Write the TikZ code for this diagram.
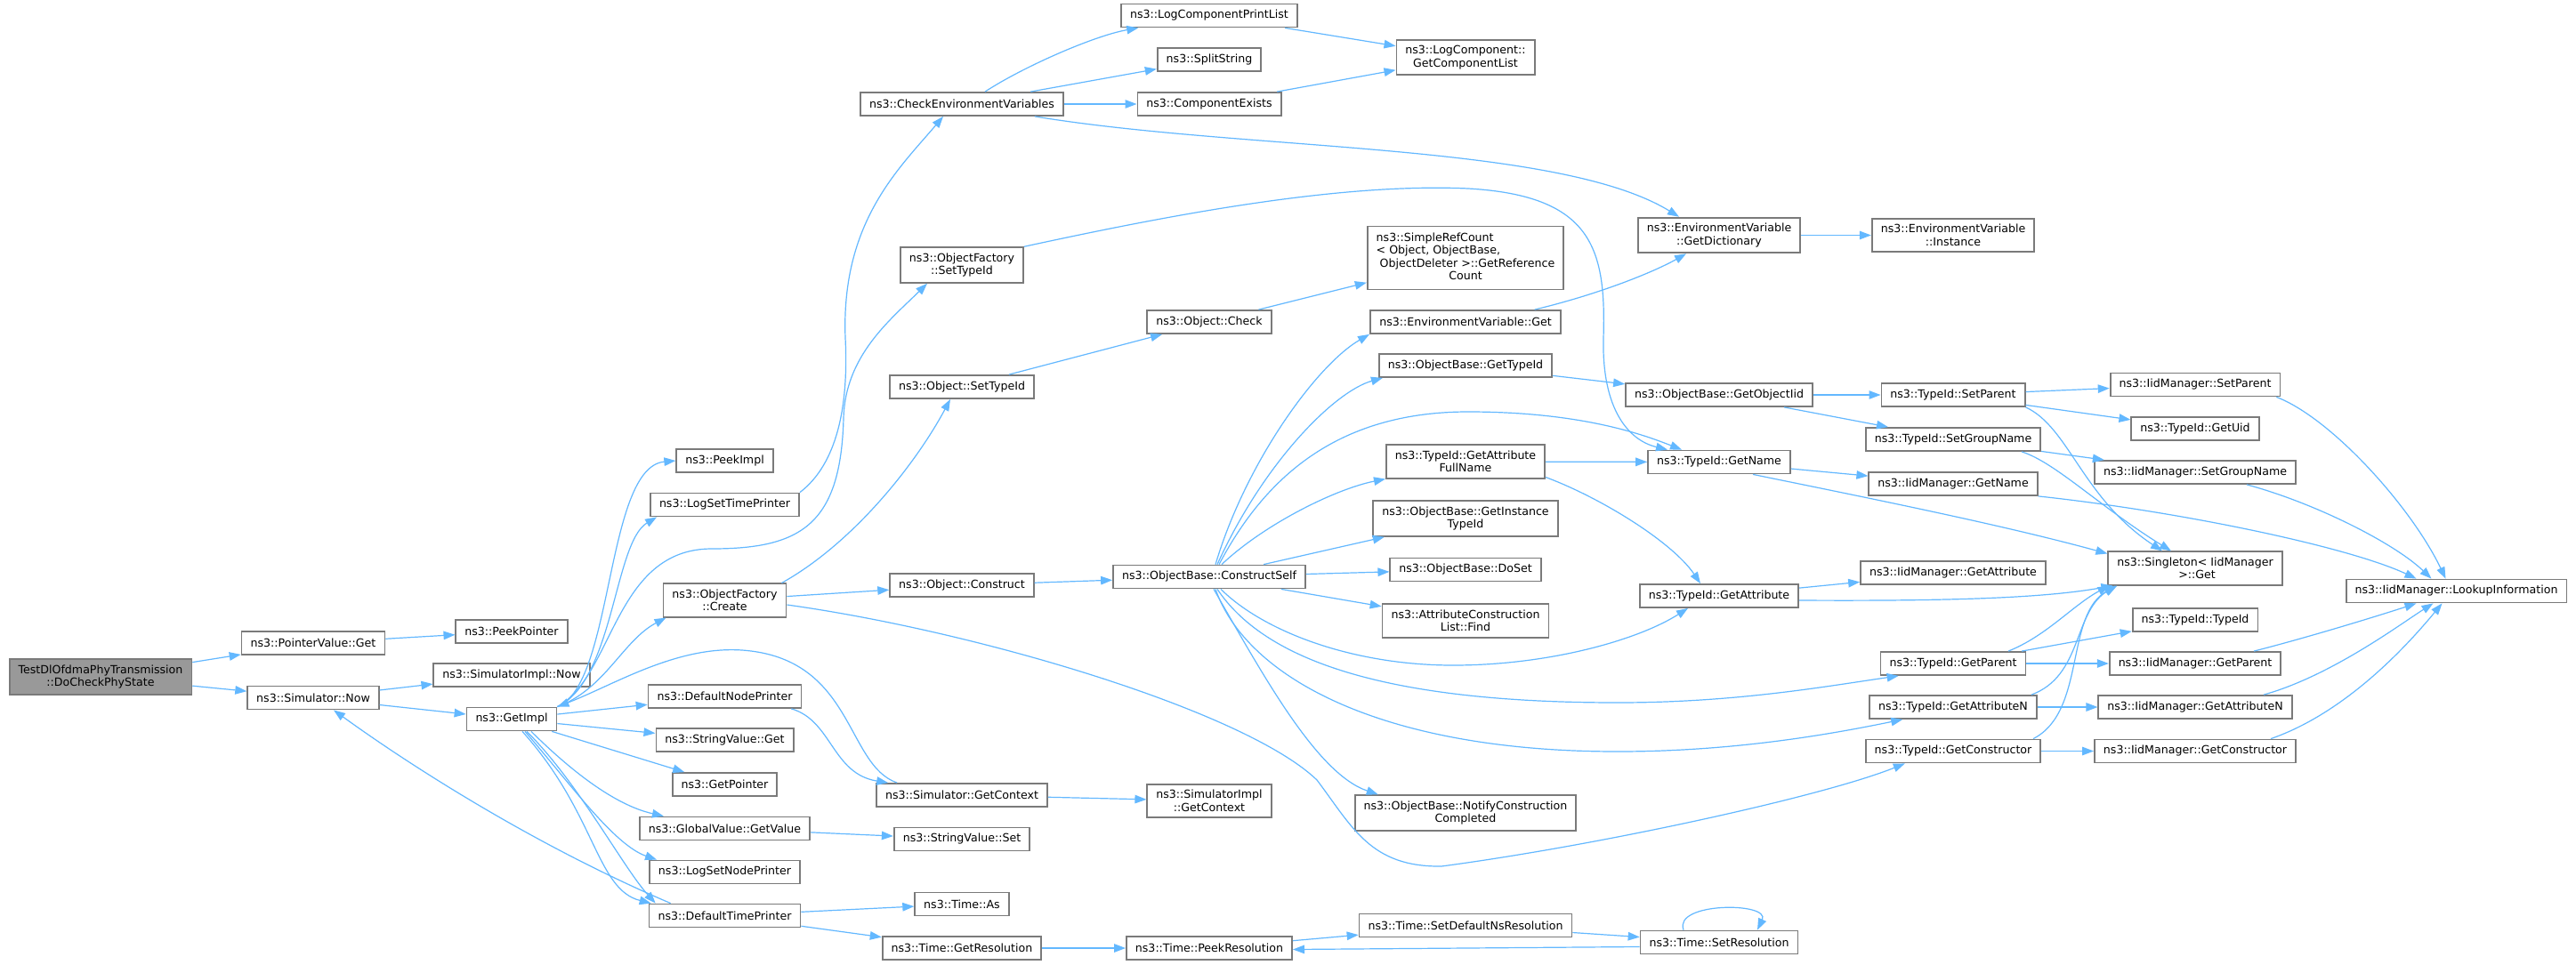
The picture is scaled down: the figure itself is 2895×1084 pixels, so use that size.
\documentclass[tikz,border=0pt]{standalone}
\usepackage{fontspec}
\setmainfont{DejaVu Sans}
\usetikzlibrary{arrows.meta}
\definecolor{edgeblue}{HTML}{63B8FF}
\definecolor{boxgray}{HTML}{7A7A7A}
\definecolor{rootgray}{HTML}{999999}
\tikzset{
  func/.style={draw=boxgray,line width=1.8pt,fill=white,inner xsep=10pt,inner ysep=6.5pt,
    minimum height=26pt,align=center,font=\fontsize{12.6}{14.5}\selectfont},
  root/.style={func,fill=rootgray},
  call/.style={draw=edgeblue,line width=1.2pt,-{Triangle[length=13pt,width=9.5pt]}}
}
\begin{document}
\begin{tikzpicture}[x=1pt,y=-1pt]
  \path[fill=white](0,0)rectangle(2895,1084); %background
  %caller and first levels
  \node[root] (root) at (113,761){TestDlOfdmaPhyTransmission\\::DoCheckPhyState};
  \node[func] (pvget) at (352,723){ns3::PointerValue::Get};
  \node[func] (simnow) at (352,784.5){ns3::Simulator::Now};
  \node[func] (peekptr) at (575,710){ns3::PeekPointer};
  \node[func] (simimplnow) at (575,759){ns3::SimulatorImpl::Now};
  \node[func] (getimpl) at (575,808.5){ns3::GetImpl};
  %column 3
  \node[func] (peekimpl) at (814.5,518){ns3::PeekImpl};
  \node[func] (logsettime) at (814.5,567.5){ns3::LogSetTimePrinter};
  \node[func] (ofcreate) at (814.5,675){ns3::ObjectFactory\\::Create};
  \node[func] (defnode) at (814.5,783){ns3::DefaultNodePrinter};
  \node[func] (svget) at (814.5,832){ns3::StringValue::Get};
  \node[func] (getptr) at (814.5,882){ns3::GetPointer};
  \node[func] (gvgetvalue) at (814.5,931.5){ns3::GlobalValue::GetValue};
  \node[func] (logsetnode) at (814.5,980.5){ns3::LogSetNodePrinter};
  \node[func] (deftime) at (814.5,1029.5){ns3::DefaultTimePrinter};
  %column 4
  \node[func] (checkenv) at (1081,117){ns3::CheckEnvironmentVariables};
  \node[func] (ofsettype) at (1081,298){ns3::ObjectFactory\\::SetTypeId};
  \node[func] (objsettype) at (1081,435){ns3::Object::SetTypeId};
  \node[func] (objconstruct) at (1081,658){ns3::Object::Construct};
  \node[func] (simgetctx) at (1081,894){ns3::Simulator::GetContext};
  \node[func] (svset) at (1081,943.5){ns3::StringValue::Set};
  \node[func] (timeas) at (1081,1016.5){ns3::Time::As};
  \node[func] (timegetres) at (1081,1066){ns3::Time::GetResolution};
  %column 5
  \node[func] (lcprint) at (1359,17.5){ns3::LogComponentPrintList};
  \node[func] (split) at (1359,67){ns3::SplitString};
  \node[func] (compexists) at (1359,117){ns3::ComponentExists};
  \node[func] (objcheck) at (1359,362){ns3::Object::Check};
  \node[func] (constructself) at (1359,648.5){ns3::ObjectBase::ConstructSelf};
  \node[func] (simimplctx) at (1359,900.5){ns3::SimulatorImpl\\::GetContext};
  \node[func] (peekres) at (1359,1066){ns3::Time::PeekResolution};
  %column 6
  \node[func] (getcomplist) at (1647,64.5){ns3::LogComponent::\\GetComponentList};
  \node[func] (refcount) at (1647,290){\begin{tabular}{@{}l@{}}ns3::SimpleRefCount\\< Object, ObjectBase,\\\ ObjectDeleter >::GetReference\\\multicolumn{1}{@{}c@{}}{Count}\end{tabular}};
  \node[func] (envget) at (1647,362){ns3::EnvironmentVariable::Get};
  \node[func] (obgettype) at (1647,411){ns3::ObjectBase::GetTypeId};
  \node[func] (attrfullname) at (1647,519){ns3::TypeId::GetAttribute\\FullName};
  \node[func] (instancetype) at (1647,583){ns3::ObjectBase::GetInstance\\TypeId};
  \node[func] (doset) at (1647,640.5){ns3::ObjectBase::DoSet};
  \node[func] (attrfind) at (1647,698){ns3::AttributeConstruction\\List::Find};
  \node[func] (notify) at (1647,914){ns3::ObjectBase::NotifyConstruction\\Completed};
  \node[func] (setdefres) at (1647,1040.5){ns3::Time::SetDefaultNsResolution};
  %column 7
  \node[func] (getdict) at (1932,264.5){ns3::EnvironmentVariable\\::GetDictionary};
  \node[func] (getobjiid) at (1932,444){ns3::ObjectBase::GetObjectIid};
  \node[func] (tidgetname) at (1932,519.5){ns3::TypeId::GetName};
  \node[func] (tidgetattr) at (1932,670){ns3::TypeId::GetAttribute};
  \node[func] (setres) at (1932,1059.5){ns3::Time::SetResolution};
  %column 8
  \node[func] (envinstance) at (2195,264.5){ns3::EnvironmentVariable\\::Instance};
  \node[func] (tidsetparent) at (2195,444){ns3::TypeId::SetParent};
  \node[func] (tidsetgroup) at (2195,494){ns3::TypeId::SetGroupName};
  \node[func] (iidgetname) at (2195,544){ns3::IidManager::GetName};
  \node[func] (iidgetattr) at (2195,644){ns3::IidManager::GetAttribute};
  \node[func] (tidgetparent) at (2195,746){ns3::TypeId::GetParent};
  \node[func] (tidgetattrn) at (2195,795){ns3::TypeId::GetAttributeN};
  \node[func] (tidgetctor) at (2195,844.5){ns3::TypeId::GetConstructor};
  %column 9
  \node[func] (iidsetparent) at (2467,432.5){ns3::IidManager::SetParent};
  \node[func] (tidgetuid) at (2467,482){ns3::TypeId::GetUid};
  \node[func] (iidsetgroup) at (2467,531){ns3::IidManager::SetGroupName};
  \node[func] (singleton) at (2467,639){ns3::Singleton< IidManager\\\hspace*{4pt}>::Get};
  \node[func] (tidtypeid) at (2467,697){ns3::TypeId::TypeId};
  \node[func] (iidgetparent) at (2467,746){ns3::IidManager::GetParent};
  \node[func] (iidgetattrn) at (2467,795){ns3::IidManager::GetAttributeN};
  \node[func] (iidgetctor) at (2467,844.5){ns3::IidManager::GetConstructor};
  \node[func] (lookup) at (2760.5,664.5){ns3::IidManager::LookupInformation};
  %calls from the caller
  \draw[call] (root)--(pvget);
  \draw[call] (root)--(simnow);
  \draw[call] (pvget)--(peekptr);
  \draw[call] (simnow)--(simimplnow);
  \draw[call] (simnow)--(getimpl);
  %GetImpl fan
  \draw[call] (getimpl.north east) .. controls (690,770) and (680,525) .. (peekimpl.west);
  \draw[call] (getimpl.north east) .. controls (690,765) and (690,610) .. ([xshift=8pt]logsettime.south west);
  \draw[call] (getimpl.north east) .. controls (680,775) and (700,720) .. ([xshift=4pt]ofcreate.south west);
  \draw[call] (getimpl.north east) .. controls (690,760) and (690,617) .. (800,617)
    .. controls (900,617) and (945,590) .. (948,470) .. controls (950,400) and (1000,360) .. ([xshift=-39pt]ofsettype.south);
  \draw[call] (logsettime.north east) .. controls (930,530) and (955,480) .. (950,380)
    .. controls (945,250) and (1010,190) .. ([xshift=-21pt]checkenv.south);
  \draw[call] (getimpl)--(defnode);
  \draw[call] (getimpl)--(svget);
  \draw[call] (getimpl)--(getptr);
  \draw[call] ([xshift=22pt]getimpl.south) .. controls (640,865) and (690,905) .. ([xshift=28pt]gvgetvalue.north west);
  \draw[call] ([xshift=15pt]getimpl.south) .. controls (640,880) and (690,950) .. ([xshift=9pt]logsetnode.north west);
  \draw[call] ([xshift=12pt]getimpl.south) .. controls (670,915) and (670,1000) .. ([xshift=3pt]deftime.north west);
  \draw[call] ([xshift=17pt]getimpl.south) .. controls (650,880) and (700,975) .. ([xshift=8pt]deftime.north west);
  %printers and context
  \draw[call] ([xshift=25pt]deftime.north west) .. controls (600,950) and (460,860) .. ([xshift=23pt]simnow.south);
  \draw[call] (deftime)--(timeas);
  \draw[call] (deftime)--(timegetres);
  \draw[call] ([xshift=-12pt]defnode.south east) .. controls (935,810) and (935,870) .. ([xshift=14pt]simgetctx.north west);
  \draw[call] ([xshift=24pt]simgetctx.north west) .. controls (950,860) and (960,740) .. (834,731)
    .. controls (760,726) and (690,770) .. (getimpl.north east);
  \draw[call] (simgetctx)--(simimplctx);
  \draw[call] (gvgetvalue)--(svset);
  %time resolution
  \draw[call] (timegetres)--(peekres);
  \draw[call] (peekres)--(setdefres);
  \draw[call] (setdefres)--(setres);
  \draw[call] ([yshift=-5pt]setres.west)--([yshift=-1.5pt]peekres.east);
  \draw[call] ([xshift=-40pt]setres.north) .. controls (1880,1014) and (1990,1014) .. ([xshift=43pt]setres.north);
  %ObjectFactory::Create
  \draw[call] (ofcreate)--(objconstruct);
  \draw[call] ([xshift=-6pt]ofcreate.north east) .. controls (960,610) and (1030,520) .. ([xshift=-13pt]objsettype.south);
  \draw[call] ([yshift=-5pt]ofcreate.east) .. controls (1100,710) and (1400,800) .. (1480,877)
    .. controls (1520,930) and (1540,975) .. (1620,974) .. controls (1800,950) and (2050,895) .. ([xshift=45pt]tidgetctor.south west);
  \draw[call] (objconstruct)--(constructself);
  \draw[call] (objsettype)--(objcheck);
  \draw[call] (objcheck)--(refcount);
  %CheckEnvironmentVariables
  \draw[call] ([xshift=26pt]checkenv.north) .. controls (1150,75) and (1230,40) .. ([xshift=20pt]lcprint.south west);
  \draw[call] (checkenv)--(split);
  \draw[call] (checkenv)--(compexists);
  \draw[call] ([xshift=-33pt]checkenv.south east) .. controls (1400,170) and (1750,160) .. ([xshift=-45pt]getdict.north);
  \draw[call] (lcprint)--(getcomplist);
  \draw[call] (compexists)--(getcomplist);
  \draw[call] (getdict)--(envinstance);
  \draw[call] ([xshift=-30pt]envget.north east) .. controls (1800,330) and (1860,305) .. ([xshift=-37pt]getdict.south);
  %ObjectFactory::SetTypeId
  \draw[call] (ofsettype.north east) .. controls (1300,245) and (1500,205) .. (1650,212)
    .. controls (1790,220) and (1805,280) .. (1802,380) .. controls (1800,460) and (1830,495) .. ([xshift=-58pt]tidgetname.north);
  %ConstructSelf
  \draw[call] ([xshift=7pt]constructself.north) .. controls (1400,520) and (1480,410) .. ([xshift=-108pt]envget.south);
  \draw[call] ([xshift=9pt]constructself.north) .. controls (1420,520) and (1500,440) .. ([xshift=5pt]obgettype.south west);
  \draw[call] ([xshift=11pt]constructself.north) .. controls (1420,540) and (1500,463) .. (1650,463)
    .. controls (1780,463) and (1850,490) .. ([xshift=-42pt]tidgetname.north);
  \draw[call] ([xshift=14pt]constructself.north) .. controls (1420,590) and (1500,550) .. (attrfullname.south west);
  \draw[call] (constructself)--(instancetype);
  \draw[call] (constructself)--(doset);
  \draw[call] (constructself)--(attrfind);
  \draw[call] ([xshift=13pt]constructself.south) .. controls (1420,710) and (1520,748) .. (1633,748)
    .. controls (1740,748) and (1840,720) .. ([xshift=-35pt]tidgetattr.south);
  \draw[call] ([xshift=9pt]constructself.south) .. controls (1420,740) and (1550,790) .. (1818,790)
    .. controls (1950,790) and (2050,772) .. ([xshift=21pt]tidgetparent.south west);
  \draw[call] ([xshift=7pt]constructself.south) .. controls (1400,760) and (1550,845) .. (1818,845)
    .. controls (1950,845) and (2060,825) .. ([xshift=38pt]tidgetattrn.south west);
  \draw[call] ([xshift=5pt]constructself.south) .. controls (1420,760) and (1480,870) .. ([xshift=27pt]notify.north west);
  %TypeId and ObjectBase
  \draw[call] (obgettype)--(getobjiid);
  \draw[call] (getobjiid)--(tidsetparent);
  \draw[call] (getobjiid)--(tidsetgroup);
  \draw[call] (attrfullname)--(tidgetname);
  \draw[call] ([yshift=2pt]attrfullname.south east) .. controls (1800,560) and (1880,610) .. ([xshift=-21pt]tidgetattr.north);
  \draw[call] (tidgetname)--(iidgetname);
  \draw[call] ([xshift=38pt]tidgetname.south) .. controls (2100,560) and (2250,590) .. ([yshift=-3pt]singleton.north west);
  \draw[call] (tidgetattr)--(iidgetattr);
  \draw[call] ([yshift=-5pt]tidgetattr.east) .. controls (2200,676) and (2300,672) .. ([xshift=6pt]singleton.south west);
  \draw[call] (tidsetparent)--(iidsetparent);
  \draw[call] (tidsetparent)--(tidgetuid);
  \draw[call] (tidsetparent.south east) .. controls (2325,480) and (2340,560) .. ([xshift=-37pt]singleton.north);
  \draw[call] (tidsetgroup)--(iidsetgroup);
  \draw[call] ([xshift=-22pt]tidsetgroup.south east) .. controls (2310,520) and (2360,570) .. ([xshift=-27pt]singleton.north);
  \draw[call] ([xshift=62pt]tidgetparent.north) .. controls (2300,715) and (2330,680) .. ([xshift=2pt]singleton.south west);
  \draw[call] (tidgetparent)--(tidtypeid);
  \draw[call] (tidgetparent)--(iidgetparent);
  \draw[call] ([xshift=88pt]tidgetattrn.north) .. controls (2340,760) and (2330,690) .. ([xshift=9pt]singleton.south west);
  \draw[call] (tidgetattrn)--(iidgetattrn);
  \draw[call] ([xshift=90pt]tidgetctor.north) .. controls (2345,800) and (2320,690) .. ([xshift=11pt]singleton.south west);
  \draw[call] (tidgetctor)--(iidgetctor);
  %IidManager to LookupInformation
  \draw[call] (iidgetname.south east) .. controls (2450,575) and (2640,615) .. ([xshift=-45pt]lookup.north);
  \draw[call] ([xshift=58pt]iidsetgroup.south) .. controls (2600,565) and (2690,610) .. ([xshift=-28pt]lookup.north);
  \draw[call] ([xshift=-5pt]iidsetparent.south east) .. controls (2620,470) and (2710,570) .. ([xshift=-12pt]lookup.north);
  \draw[call] ([xshift=66pt]iidgetparent.north) .. controls (2600,715) and (2680,690) .. ([xshift=-45pt]lookup.south);
  \draw[call] ([xshift=77pt]iidgetattrn.north) .. controls (2620,760) and (2700,700) .. ([xshift=-26pt]lookup.south);
  \draw[call] ([xshift=85pt]iidgetctor.north) .. controls (2640,800) and (2710,720) .. ([xshift=-16pt]lookup.south);
\end{tikzpicture}
\end{document}
